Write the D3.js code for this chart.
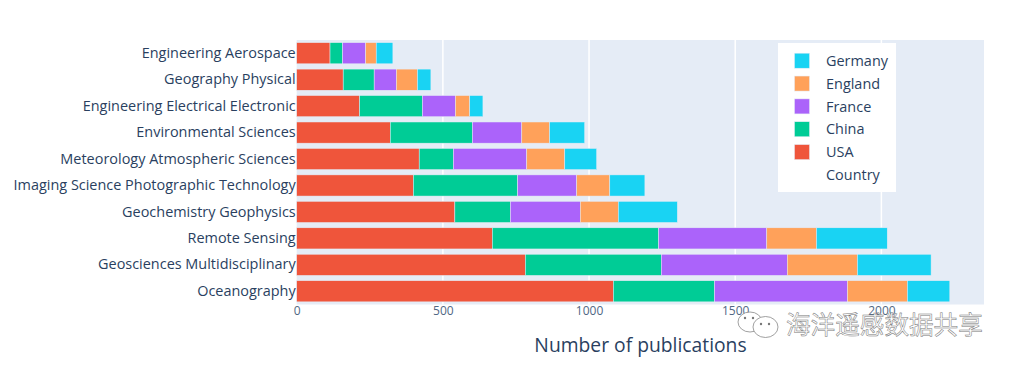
<!DOCTYPE html>
<html>
<head>
<meta charset="utf-8">
<script src="https://cdn.jsdelivr.net/npm/d3@7"></script>
<style>
  html, body { margin: 0; padding: 0; background: #fff; }
  svg { display: block; }
  text { font-family: "Open Sans", sans-serif; fill: #2a3f5f; }
</style>
</head>
<body>
<script>
var categories = ["Engineering Aerospace", "Geography Physical", "Engineering Electrical Electronic",
  "Environmental Sciences", "Meteorology Atmospheric Sciences", "Imaging Science Photographic Technology",
  "Geochemistry Geophysics", "Remote Sensing", "Geosciences Multidisciplinary", "Oceanography"];
var countries = ["USA", "China", "France", "England", "Germany"];
var usa = [114, 159, 215, 320, 419, 399, 541, 669, 782, 1083];
var china = [43, 106, 215, 281, 117, 357, 190, 569, 465, 346];
var france = [79, 76, 113, 169, 251, 202, 239, 370, 431, 455];
var england = [36, 72, 49, 95, 130, 113, 130, 170, 240, 205];
var germany = [57, 46, 45, 120, 109, 120, 202, 242, 252, 145];
var xTicks = [0, 500, 1000, 1500, 2000];
var colors = ["#EF553B", "#00CC96", "#AB63FA", "#FFA15A", "#19D3F3"];

var width = 1017, height = 370;
var plotLeft = 296.7, plotRight = 984, plotTop = 40, plotBottom = 304.5;

var rows = categories.map(function (c, i) {
  return { category: c, USA: usa[i], China: china[i], France: france[i], England: england[i], Germany: germany[i] };
});
var stacked = d3.stack().keys(countries)(rows);

var x = d3.scaleLinear().domain([0, 2351]).range([plotLeft, plotRight]);
var y = d3.scaleBand().domain(categories).range([plotTop, plotBottom]).paddingInner(0.2).paddingOuter(0.1);

var svg = d3.select("body").append("svg").attr("width", width).attr("height", height);

// plot background and vertical grid
svg.append("rect").attr("x", plotLeft).attr("y", plotTop)
    .attr("width", plotRight - plotLeft).attr("height", plotBottom - plotTop).attr("fill", "#E5ECF6");
svg.append("g").selectAll("line").data(xTicks.slice(1)).enter().append("line")
    .attr("x1", function (d) { return x(d); }).attr("x2", function (d) { return x(d); })
    .attr("y1", plotTop).attr("y2", plotBottom)
    .attr("stroke", "#fff").attr("stroke-width", 1.5);

// stacked bars
svg.append("g").selectAll("g").data(stacked).enter().append("g")
    .attr("fill", function (d, i) { return colors[i]; })
    .selectAll("rect").data(function (d) { return d; }).enter().append("rect")
    .attr("x", function (d) { return x(d[0]); })
    .attr("y", function (d) { return y(d.data.category); })
    .attr("width", function (d) { return x(d[1]) - x(d[0]); })
    .attr("height", y.bandwidth())
    .attr("stroke", "#E5ECF6").attr("stroke-width", 0.5);

// axes
var xAxis = svg.append("g").attr("transform", "translate(0," + plotBottom + ")")
    .call(d3.axisBottom(x).tickValues(xTicks).tickSize(0).tickPadding(2).tickFormat(d3.format("d")));
xAxis.select(".domain").remove();
xAxis.selectAll("text").attr("font-size", 12).style("fill", "#506784");

var yAxis = svg.append("g").attr("transform", "translate(" + plotLeft + ",0)")
    .call(d3.axisLeft(y).tickSize(0).tickPadding(1));
yAxis.select(".domain").remove();
yAxis.selectAll("text").attr("font-size", 14.45).style("font-family", '"Open Sans", sans-serif');

svg.append("text").attr("x", 640.5).attr("y", 352).attr("text-anchor", "middle")
    .attr("font-size", 19.3).text("Number of publications");

// legend
var legendNames = countries.slice().reverse();
var legendColors = colors.slice().reverse();
var legend = svg.append("g");
legend.append("rect").attr("x", 778).attr("y", 43).attr("width", 118).attr("height", 149).attr("fill", "#fff");
var item = legend.selectAll("g").data(legendNames.concat(["Country"])).enter().append("g")
    .attr("transform", function (d, i) { return "translate(0," + (60.7 + i * 22.85) + ")"; });
item.filter(function (d, i) { return i < 5; }).append("rect")
    .attr("x", 794.5).attr("y", -7.5).attr("width", 15).attr("height", 15)
    .attr("fill", function (d, i) { return legendColors[i]; })
    .attr("stroke", "#E5ECF6").attr("stroke-width", 0.5);
item.append("text").attr("x", 826).attr("y", 5.2).attr("font-size", 14.45)
    .text(function (d) { return d; });

// watermark
var mark = svg.append("g");
mark.append("ellipse").attr("cx", 750).attr("cy", 322).attr("rx", 12).attr("ry", 10)
    .attr("fill", "#fff").attr("stroke", "#888").attr("stroke-width", 0.8);
mark.append("ellipse").attr("cx", 765.5).attr("cy", 327).attr("rx", 12.5).attr("ry", 10.5)
    .attr("fill", "#fff").attr("stroke", "#888").attr("stroke-width", 0.8);
mark.selectAll("circle").data([[745, 318], [753, 318], [761, 324], [769, 324]]).enter().append("circle")
    .attr("cx", function (d) { return d[0]; }).attr("cy", function (d) { return d[1]; })
    .attr("r", 1.2).attr("fill", "#777");
mark.append("text").attr("x", 786).attr("y", 334).attr("font-size", 24.6)
    .style("font-family", '"Noto Sans CJK SC"').style("fill", "#fff")
    .attr("stroke", "#777").attr("stroke-width", 0.5)
    .text("海洋遥感数据共享");
</script>
</body>
</html>
